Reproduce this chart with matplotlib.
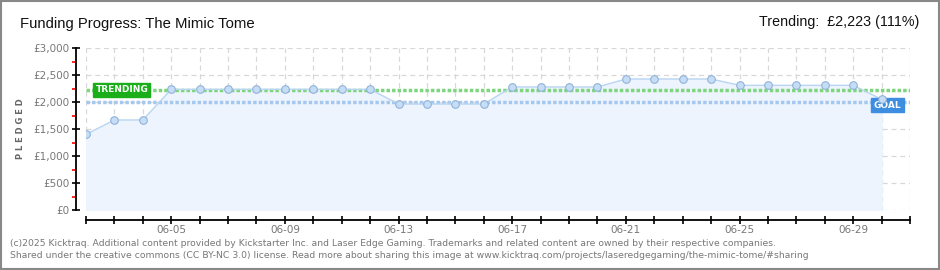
import numpy as np
import pandas as pd
import matplotlib.pyplot as plt
import matplotlib.dates as mdates
from matplotlib.patches import Rectangle

# data
dates = ['2025-06-02', '2025-06-03', '2025-06-04', '2025-06-05', '2025-06-06',
         '2025-06-07', '2025-06-08', '2025-06-09', '2025-06-10', '2025-06-11',
         '2025-06-12', '2025-06-13', '2025-06-14', '2025-06-15', '2025-06-16',
         '2025-06-17', '2025-06-18', '2025-06-19', '2025-06-20', '2025-06-21',
         '2025-06-22', '2025-06-23', '2025-06-24', '2025-06-25', '2025-06-26',
         '2025-06-27', '2025-06-28', '2025-06-29', '2025-06-30']
pledged = [1400, 1667, 1667, 2235, 2235, 2235, 2235, 2235, 2235, 2235, 2235,
           1963, 1963, 1963, 1963, 2278, 2278, 2278, 2278, 2426, 2426, 2426, 2426,
           2309, 2309, 2309, 2309, 2309, 2050]
goal = 2000
trending = 2223
y_ticks = [0, 500, 1000, 1500, 2000, 2500, 3000]
y_labels = ['£0', '£500', '£1,000', '£1,500', '£2,000', '£2,500', '£3,000']

x = pd.to_datetime(dates)
x_start = pd.Timestamp('2025-06-02')
x_end = pd.Timestamp('2025-07-01')

fig = plt.figure(figsize=(9.4, 2.7), dpi=100)
ax = fig.add_axes([86/940, 1 - 210/270, 824/940, 162/270])

# grid
ax.set_xlim(x_start, x_end)
ax.set_ylim(0, 3000)
ax.xaxis.set_major_locator(mdates.DayLocator())
ax.grid(True, color='#d8d8d8', ls=(0, (4, 3)), lw=0.9)
ax.set_axisbelow(True)

# fill + line
ax.fill_between(x, pledged, 0, color='#edf4fd', zorder=1)
ax.plot(x, pledged, color='#b9d5f2', lw=1, zorder=3)
ax.scatter(x, pledged, s=30, facecolor='#c6ddf6', edgecolor='#90b2d9', lw=0.8, zorder=5)

# trending / goal lines
ax.axhline(trending, color='#7dd67d', lw=2.5, ls=(0, (1, 0.6)), zorder=2)
ax.axhline(goal, color='#a6c8ef', lw=2.5, ls=(0, (1, 0.6)), zorder=2)
ax.text(pd.Timestamp('2025-06-02 08:00'), trending, 'TRENDING', color='white',
        fontsize=6.5, fontweight='bold', va='center', ha='left', zorder=6,
        bbox=dict(boxstyle='square,pad=0.25', fc='#1aae1a', ec='#1aae1a'))
ax.text(pd.Timestamp('2025-06-29 17:00'), goal - 60, 'GOAL', color='white',
        fontsize=6.5, fontweight='bold', va='center', ha='left', zorder=4,
        bbox=dict(boxstyle='square,pad=0.3', fc='#3d8de0', ec='#3d8de0'))

# axes styling
for s in ['top', 'right']:
    ax.spines[s].set_visible(False)
ax.spines['left'].set_position(('outward', 7))
ax.spines['bottom'].set_position(('outward', 7))
ax.spines['left'].set_bounds(0, 3000)
ax.spines['left'].set_linewidth(1.3)
ax.spines['bottom'].set_linewidth(1.3)

ax.set_yticks(y_ticks)
ax.set_yticklabels(y_labels)
ax.set_yticks(np.arange(250, 3000, 500), minor=True)
ax.tick_params(axis='y', which='major', direction='inout', length=6, width=1.2,
               labelsize=7.5, labelcolor='#777777', pad=2)
ax.tick_params(axis='y', which='minor', direction='out', length=3, width=1.2,
               color='red')

ax.xaxis.set_major_formatter(plt.FuncFormatter(
    lambda v, p: mdates.num2date(v).strftime('%m-%d')
    if (mdates.num2date(v).replace(tzinfo=None) - x_start.to_pydatetime()).days % 4 == 3 else ''))
ax.tick_params(axis='x', direction='inout', length=6, width=1.2,
               labelsize=7.5, labelcolor='#777777', pad=1)

ax.set_ylabel('P L E D G E D', fontsize=6, color='#666666', fontweight='bold', labelpad=6)

# texts
fig.text(20/940, 1 - 24/270, 'Funding Progress: The Mimic Tome', fontsize=10.7,
         family=['Liberation Sans', 'DejaVu Sans'], va='center', ha='left', color='#111111')
fig.text(919/940, 1 - 22/270, 'Trending:  £2,223 (111%)', fontsize=10.3,
         family=['Liberation Sans', 'DejaVu Sans'], va='center', ha='right', color='#111111')
fig.text(10/940, 1 - 243/270,
         '(c)2025 Kicktraq. Additional content provided by Kickstarter Inc. and Laser Edge Gaming. '
         'Trademarks and related content are owned by their respective companies.',
         fontsize=6.65, color='#777777', va='center', ha='left')
fig.text(10/940, 1 - 256/270,
         'Shared under the creative commons (CC BY-NC 3.0) license. Read more about sharing this image at '
         'www.kicktraq.com/projects/laseredgegaming/the-mimic-tome/#sharing',
         fontsize=6.65, color='#777777', va='center', ha='left')

fig.patches.append(Rectangle((0.001, 0.002), 0.998, 0.996, transform=fig.transFigure,
                             fill=False, ec='#888888', lw=1.5))

fig.savefig('out.png', dpi=100)
